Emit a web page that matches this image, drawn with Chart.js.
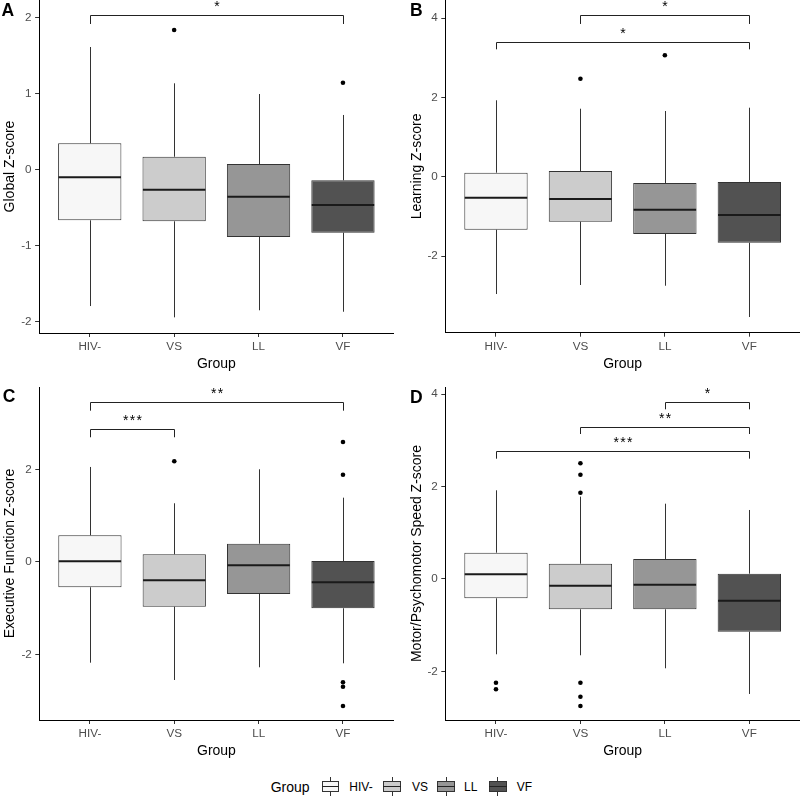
<!DOCTYPE html>
<html>
<head>
<meta charset="utf-8">
<script src="https://cdn.jsdelivr.net/npm/chart.js@4"></script>
<style>
  html, body { margin:0; padding:0; background:#fff; }
  body { width:800px; height:796px; position:relative; overflow:hidden; font-family:"Liberation Sans", Arial, sans-serif; }
  canvas { position:absolute; }
  .lg { position:absolute; color:#000; white-space:nowrap; }
  .key { position:absolute; width:17.6px; height:19px; }
  .key .wh { position:absolute; left:8.3px; top:0; width:1px; height:19px; background:#333; }
  .key .bx { position:absolute; left:0; top:4.4px; width:17.6px; height:10.8px; border:1px solid #333; box-sizing:border-box; }
  .key .md { position:absolute; left:0; top:9.1px; width:17.6px; height:1.6px; background:#222; }
</style>
</head>
<body>
<canvas id="cA" width="400" height="380" style="left:0px;top:0px"></canvas>
<canvas id="cB" width="400" height="380" style="left:400px;top:0px"></canvas>
<canvas id="cC" width="400" height="387" style="left:0px;top:380px"></canvas>
<canvas id="cD" width="400" height="387" style="left:400px;top:380px"></canvas>

<div class="lg" style="left:270.7px;top:779px;font-size:14px;line-height:16px">Group</div>
<div id="legendKeys"></div>

<script>
// ---------- data ----------
const groups = ['HIV-', 'VS', 'LL', 'VF'];
const fills  = ['#f7f7f7', '#cccccc', '#969696', '#525252'];

// Panel A: Global Z-score
const A_q1  = [-0.665, -0.678, -0.885, -0.828];
const A_med = [-0.099, -0.262, -0.354, -0.464];
const A_q3  = [0.349, 0.172, 0.076, -0.138];
const A_lo  = [-1.794, -1.943, -1.850, -1.869];
const A_hi  = [1.617, 1.139, 0.998, 0.722];
const A_out = [[], [1.841], [], [1.147]];
const A_sig = [{from:0, to:3, y:2.039, tip:1.92, label:'*'}];
const A_ticks = [-2, -1, 0, 1, 2];

// Panel B: Learning Z-score
const B_q1  = [-1.336, -1.134, -1.444, -1.664];
const B_med = [-0.529, -0.562, -0.832, -0.965];
const B_q3  = [0.101, 0.144, -0.159, -0.134];
const B_lo  = [-2.957, -2.730, -2.748, -3.537];
const B_hi  = [1.926, 1.714, 1.656, 1.739];
const B_out = [[], [2.470], [3.060], []];
const B_sig = [
  {from:1, to:3, y:4.076, tip:3.85, label:'*'},
  {from:0, to:3, y:3.396, tip:3.211, label:'*'}
];
const B_ticks = [-2, 0, 2, 4];

// Panel C: Executive Function Z-score
const C_q1  = [-0.551, -0.971, -0.696, -1.005];
const C_med = [0.011, -0.400, -0.076, -0.443];
const C_q3  = [0.573, 0.162, 0.391, 0.017];
const C_lo  = [-2.182, -2.556, -2.281, -2.195];
const C_hi  = [2.050, 1.265, 2.000, 1.386];
const C_out = [[], [2.173], [], [2.590, 1.883, -2.605, -2.701, -3.118]];
const C_sig = [
  {from:0, to:3, y:3.449, tip:3.267, label:'**'},
  {from:0, to:1, y:2.878, tip:2.692, label:'***'}
];
const C_ticks = [-2, 0, 2];

// Panel D: Motor/Psychomotor Speed Z-score
const D_q1  = [-0.420, -0.658, -0.658, -1.142];
const D_med = [0.100, -0.147, -0.125, -0.472];
const D_q3  = [0.567, 0.329, 0.431, 0.113];
const D_lo  = [-1.631, -1.653, -1.934, -2.490];
const D_hi  = [1.917, 1.780, 1.627, 1.491];
const D_out = [[-2.246, -2.389], [2.501, 2.254, 1.865, -2.246, -2.549, -2.750], [], []];
const D_sig = [
  {from:2, to:3, y:3.821, tip:3.669, label:'*'},
  {from:1, to:3, y:3.286, tip:3.135, label:'**'},
  {from:0, to:3, y:2.767, tip:2.601, label:'***'}
];
const D_ticks = [-2, 0, 2, 4];

// ---------- panels ----------
const panels = [
  {id:'cA', letter:'A', letterX:1.5, letterY:16, q1:A_q1, med:A_med, q3:A_q3, lo:A_lo, hi:A_hi, out:A_out, sig:A_sig, ticks:A_ticks,
   yMin:-2.149, yMax:2.236, title:'Global Z-score', titlePad:1.6, pad:{left:0, right:6.4, top:0, bottom:0}, yWidth:39.1, xHeight:47},
  {id:'cB', letter:'B', letterX:10, letterY:16, q1:B_q1, med:B_med, q3:B_q3, lo:B_lo, hi:B_hi, out:B_out, sig:B_sig, ticks:B_ticks,
   yMin:-3.932, yMax:4.454, title:'Learning Z-score', titlePad:8.9, pad:{left:0, right:0, top:0, bottom:0}, yWidth:45.3, xHeight:47.3},
  {id:'cC', letter:'C', letterX:2.7, letterY:22, q1:C_q1, med:C_med, q3:C_q3, lo:C_lo, hi:C_hi, out:C_out, sig:C_sig, ticks:C_ticks,
   yMin:-3.421, yMax:3.779, title:'Executive Function Z-score', titlePad:1.6, pad:{left:0, right:6.4, top:7, bottom:0}, yWidth:39.3, xHeight:47},
  {id:'cD', letter:'D', letterX:10, letterY:22.5, q1:D_q1, med:D_med, q3:D_q3, lo:D_lo, hi:D_hi, out:D_out, sig:D_sig, ticks:D_ticks,
   yMin:-3.053, yMax:4.152, title:'Motor/Psychomotor Speed Z-score', titlePad:9.1, pad:{left:0, right:0, top:7, bottom:0}, yWidth:45.3, xHeight:47}
];

const FONT = '"Liberation Sans", Arial, sans-serif';

function extrasPlugin(p) {
  return {
    id: 'boxExtras',
    beforeDatasetsDraw(chart) {
      const {ctx, scales:{x, y}} = chart;
      ctx.save();
      ctx.strokeStyle = '#333';
      ctx.lineWidth = 1;
      groups.forEach((g, i) => {
        const px = Math.round(x.getPixelForValue(i)) + 0.5;
        ctx.beginPath();
        ctx.moveTo(px, y.getPixelForValue(p.hi[i]));
        ctx.lineTo(px, y.getPixelForValue(p.q3[i]));
        ctx.moveTo(px, y.getPixelForValue(p.q1[i]));
        ctx.lineTo(px, y.getPixelForValue(p.lo[i]));
        ctx.stroke();
      });
      ctx.restore();
    },
    afterDatasetsDraw(chart) {
      const {ctx, scales:{x, y}} = chart;
      ctx.save();
      // medians
      ctx.strokeStyle = '#1a1a1a';
      ctx.lineWidth = 2;
      groups.forEach((g, i) => {
        const l = x.getPixelForValue(i - 0.37), r = x.getPixelForValue(i + 0.37);
        const py = y.getPixelForValue(p.med[i]);
        ctx.beginPath();
        ctx.moveTo(l, py);
        ctx.lineTo(r, py);
        ctx.stroke();
      });
      // significance brackets
      ctx.strokeStyle = '#222';
      ctx.lineWidth = 1;
      ctx.fillStyle = '#000';
      ctx.font = '14px ' + FONT;
      ctx.textAlign = 'center';
      ctx.textBaseline = 'alphabetic';
      p.sig.forEach(s => {
        const x1 = Math.round(x.getPixelForValue(s.from)) + 0.5;
        const x2 = Math.round(x.getPixelForValue(s.to)) + 0.5;
        const yb = Math.round(y.getPixelForValue(s.y)) + 0.5;
        const yt = y.getPixelForValue(s.tip);
        ctx.beginPath();
        ctx.moveTo(x1, yt);
        ctx.lineTo(x1, yb);
        ctx.lineTo(x2, yb);
        ctx.lineTo(x2, yt);
        ctx.stroke();
        const n = s.label.length, cx = (x1 + x2) / 2, adv = 6.7;
        for (let k = 0; k < n; k++) {
          ctx.fillText('*', cx + (k - (n - 1) / 2) * adv, yb - 4.5);
        }
      });
      // panel letter
      ctx.font = 'bold 17.5px ' + FONT;
      ctx.textAlign = 'left';
      ctx.fillStyle = '#000';
      ctx.fillText(p.letter, p.letterX, p.letterY);
      ctx.restore();
    }
  };
}

function makePanel(p) {
  const outliers = [];
  p.out.forEach((arr, i) => arr.forEach(v => outliers.push({x: i, y: v})));
  new Chart(document.getElementById(p.id), {
    type: 'bar',
    data: {
      datasets: [
        {
          type: 'bar',
          data: groups.map((g, i) => ({x: i, y: [p.q1[i], p.q3[i]]})),
          backgroundColor: fills,
          borderColor: '#333',
          borderWidth: 1,
          borderSkipped: false,
          barPercentage: 0.75,
          categoryPercentage: 1,
          order: 2
        },
        {
          type: 'scatter',
          data: outliers,
          pointRadius: 2.3,
          pointHoverRadius: 2.3,
          pointBackgroundColor: '#000',
          pointBorderWidth: 0,
          order: 1
        }
      ]
    },
    options: {
      responsive: false,
      animation: false,
      events: [],
      layout: { padding: p.pad, autoPadding: false },
      plugins: { legend: {display: false}, tooltip: {enabled: false} },
      scales: {
        x: {
          type: 'linear',
          min: -0.6, max: 3.6,
          offset: false,
          afterBuildTicks: s => { s.ticks = groups.map((g, i) => ({value: i})); },
          afterFit: s => { s.height = p.xHeight; s.paddingLeft = 0; s.paddingRight = 0; },
          ticks: { callback: (v, i) => groups[i], color: '#4d4d4d', font: {size: 11.7, family: FONT}, padding: 3, maxRotation: 0, autoSkip: false },
          grid: { display: true, drawOnChartArea: false, drawTicks: true, tickLength: 4, color: '#333', offset: false },
          border: { display: true, color: '#000', width: 1 },
          title: { display: true, text: 'Group', color: '#000', font: {size: 14, family: FONT}, padding: {top: 0, bottom: 7.6} }
        },
        y: {
          type: 'linear',
          min: p.yMin, max: p.yMax,
          afterBuildTicks: s => { s.ticks = p.ticks.map(v => ({value: v})); },
          afterFit: s => { s.width = p.yWidth; s.paddingTop = 0; s.paddingBottom = 0; },
          ticks: { color: '#4d4d4d', font: {size: 11.7, family: FONT}, padding: 3.5, callback: v => String(v) },
          grid: { display: true, drawOnChartArea: false, drawTicks: true, tickLength: 4, color: '#333' },
          border: { display: true, color: '#000', width: 1 },
          title: { display: true, text: p.title, color: '#000', font: {size: 14, family: FONT}, padding: {top: p.titlePad, bottom: 0} }
        }
      }
    },
    plugins: [extrasPlugin(p)]
  });
}

panels.forEach(makePanel);

// ---------- legend ----------
const keyLefts = [321.7, 383.3, 437.3, 489];
const labelLefts = [349.3, 412, 464, 516.7];
const lk = document.getElementById('legendKeys');
groups.forEach((g, i) => {
  const k = document.createElement('div');
  k.className = 'key';
  k.style.left = keyLefts[i] + 'px';
  k.style.top = '776.5px';
  k.innerHTML = '<div class="wh"></div><div class="bx" style="background:' + fills[i] + '"></div><div class="md"></div>';
  lk.appendChild(k);
  const t = document.createElement('div');
  t.className = 'lg';
  t.style.left = labelLefts[i] + 'px';
  t.style.top = '780px';
  t.style.fontSize = '12px';
  t.style.lineHeight = '14px';
  t.textContent = g;
  lk.appendChild(t);
});
</script>
</body>
</html>
